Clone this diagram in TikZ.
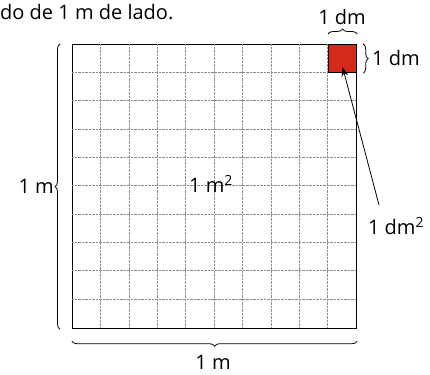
\documentclass[tikz,border=0pt]{standalone}
\usepackage{fontspec}
\setmainfont{Open Sans}
\usetikzlibrary{arrows.meta,positioning,decorations.pathreplacing}
\definecolor{cellred}{HTML}{D42A1C}

\begin{document}
\begin{tikzpicture}[x=1pt,y=-1pt,font=\fontsize{20}{22}\selectfont,
      grid/.style={gray!90,thin,densely dotted},
      brc/.style={decorate,decoration={brace,amplitude=5pt},thick},
      lbl/.style={inner sep=1pt}]
    \useasboundingbox (0,0) rectangle (430,374);
    % metro cuadrado
    \node[draw,very thick,minimum size=284pt,inner sep=0pt,anchor=north west] (sq) at (72,44) {};
    \foreach \i in {1,...,9} {
      \draw[grid] (72+28.4*\i,44) -- (72+28.4*\i,327);
      \draw[grid] (72,44+28.3*\i) -- (356,44+28.3*\i);
    }
    \node[draw,very thick,fill=cellred,minimum size=28pt,inner sep=0pt,anchor=north east] (dm) at (sq.north east) {};
    \node[lbl] (area) at (211,184) {1 m\textsuperscript{2}};
    % llaves
    \draw[brc] (sq.south west) ++(-12,0) coordinate (lb) -- (lb |- sq.north west);
    \node[lbl,anchor=east] (lm) at (55,186) {1 m};
    \draw[brc] ([yshift=-12]sq.south east) -- ([yshift=-12]sq.south west);
    \node[lbl] (bm) at (213,362) {1 m};
    \draw[brc] ([yshift=10]dm.north west) -- ([yshift=10]dm.north east);
    \node[lbl] (tdm) at (342,17) {1 dm};
    \draw[brc] ([xshift=6]dm.north east) -- ([xshift=6]dm.south east);
    \node[lbl,anchor=west] (rdm) at (371,58) {1 dm};
    % flecha
    \node[lbl] (adm) at (396,226) {1 dm\textsuperscript{2}};
    \coordinate (tail) at (379,205);
    \draw[-{Stealth[length=9pt]},thick] (tail) -- ([yshift=6]dm.south);
    \node[lbl,anchor=west] (txt) at (-1,12) {do de 1 m de lado.};
\end{tikzpicture}
\end{document}
